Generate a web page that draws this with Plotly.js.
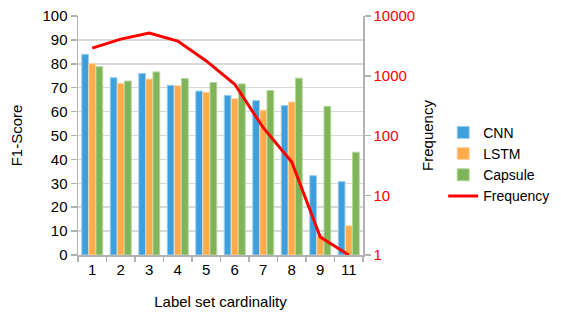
<!DOCTYPE html>
<html>
<head>
<meta charset="utf-8">
<script src="https://cdn.plot.ly/plotly-3.0.1.min.js"></script>
<style>html,body{margin:0;padding:0;background:#fff;}#chart{width:561px;height:314px;}</style>
</head>
<body>
<div id="chart"></div>
<script>
const categories = ['1','2','3','4','5','6','7','8','9','11'];
const cnn = [84, 74.2, 76, 71, 68.6, 66.8, 64.6, 62.6, 33.2, 30.8];
const lstm = [80, 71.8, 73.6, 70.8, 68, 65.4, 60.6, 64, 8, 12.2];
const capsule = [78.8, 72.8, 76.6, 73.8, 72.2, 71.6, 68.8, 74, 62.2, 43];
const frequency = [2900, 4100, 5200, 3800, 1770, 720, 135, 36, 2, 1];

const font = 'Liberation Sans, Arial, sans-serif';
function barTrace(name, y, color, line) {
  return {type:'bar', name:name, x:categories, y:y,
    marker:{color:color, line:{color:line, width:1}}};
}
const data = [
  barTrace('CNN', cnn, '#3e9fdd', '#9fd0f2'),
  barTrace('LSTM', lstm, '#ffab4c', '#ffd39f'),
  barTrace('Capsule', capsule, '#7fb459', '#b5d79c'),
  {type:'scatter', mode:'lines', name:'Frequency', x:categories, y:frequency, yaxis:'y2',
   line:{color:'#ff0000', width:3}}
];
const layout = {
  width:561, height:314,
  margin:{l:78, r:198, t:16, b:59},
  paper_bgcolor:'#fff', plot_bgcolor:'#fff',
  font:{family:font, size:15, color:'#000'},
  barmode:'group', bargap:0.25, bargroupgap:0.05,
  showlegend:true,
  legend:{xref:'container', yref:'container', x:0.79, y:0.628, xanchor:'left', yanchor:'top',
    font:{family:font, size:14, color:'#000'}, tracegroupgap:0, itemwidth:30, bgcolor:'rgba(0,0,0,0)'},
  xaxis:{type:'category', showgrid:false, showline:true, linecolor:'#b3b3b3', linewidth:1.5,
    ticks:'outside', tickson:'boundaries', ticklen:5, tickcolor:'#b3b3b3', tickwidth:1.5,
    tickfont:{size:15}, title:{text:'Label set cardinality', font:{size:15}, standoff:20}},
  yaxis:{range:[0,100], dtick:10, showgrid:true, gridcolor:'#d9d9d9', gridwidth:1.5,
    showline:true, linecolor:'#b3b3b3', linewidth:1.5, ticks:'outside', ticklen:6,
    tickcolor:'#b3b3b3', tickwidth:1.5, zeroline:false, tickfont:{size:15},
    title:{text:'F1-Score', font:{size:15}, standoff:16}},
  yaxis2:{type:'log', range:[0,4], overlaying:'y', side:'right', showgrid:false,
    showline:true, linecolor:'#b3b3b3', linewidth:1.5, ticks:'outside', ticklen:6,
    tickcolor:'#b3b3b3', tickwidth:1.5, tickvals:[1,10,100,1000,10000],
    ticktext:['1','10','100','1000','10000'], tickfont:{size:15, color:'#ff0000'},
    title:{text:'Frequency', font:{size:15, color:'#000'}, standoff:8}}
};
Plotly.newPlot('chart', data, layout, {displayModeBar:false, staticPlot:true});
</script>
</body>
</html>
